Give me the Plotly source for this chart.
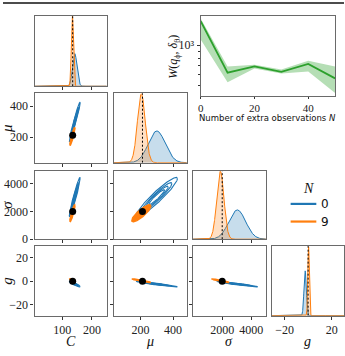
import numpy as np
import plotly.graph_objects as go

# ---------------- data ----------------
param_names = ["C", "μ", "σ", "g"]
truth = [135, 212, 2000, 0]

# posterior summaries, N = 0 (blue) and N = 9 (orange)
mean_n0 = [142, 300, 3040, -2.5]
sd_n0 = [7.5, 52, 580, 1.0]
mean_n9 = [134, 205, 1870, 0.4]
sd_n9 = [3.5, 24, 250, 0.65]
pairs = [(0, 1), (0, 2), (1, 2), (0, 3), (1, 3), (2, 3)]
corr_n0 = [0.97, 0.96, 0.94, -0.90, -0.95, -0.95]
corr_n9 = [0.92, 0.90, 0.85, -0.90, -0.95, -0.95]
contour_levels = [0.05, 0.2, 0.4, 0.65]   # relative density levels
legend_labels = ["0", "9"]

# inset: distance vs number of extra observations
n_extra = [0, 10, 20, 30, 40, 50]
w_median = [1510, 622, 693, 630, 722, 563]
w_low = [1100, 526, 667, 612, 633, 437]
w_high = [1580, 692, 711, 655, 763, 690]

axis_ticks = [[100, 200], [200, 400], [2000, 4000], [-20, 20]]
row_ticks = [None, [200, 400], [0, 2000, 4000], [-20, 0, 20]]

# ---------------- style / layout ----------------
W, H = 345, 356
BLUE = "#1f77b4"
ORANGE = "#ff7f0e"
GREEN = "#2ca02c"
FRAME = "#6a6a6a"
SERIF = "Liberation Serif"

col_px = [(32, 105), (112, 186), (192, 266), (272, 345)]
row_px = [(16, 88), (95, 166), (174, 244), (251, 322)]
x_ranges = [[6.7, 250], [35, 485], [-35, 5020], [-30.8, 30.5]]
y_ranges = [None, [35, 485], [0, 4950], [-29.5, 30]]


def fx(p):
    return p / W


def fy(p):
    return 1 - p / H


def fmt(v):
    return ("−" + str(abs(v))) if v < 0 else str(v)


def ellipse(mx, my, sx, sy, rho, level, n=160):
    r = np.sqrt(-2 * np.log(level))
    t = np.linspace(0, 2 * np.pi, n)
    u = r * np.cos(t)
    v = r * np.sin(t)
    ex = mx + sx * u
    ey = my + sy * (rho * u + np.sqrt(1 - rho * rho) * v)
    return ex, ey


fig = go.Figure()
layout = {}
corr_lookup = [{p: c for p, c in zip(pairs, corr_n0)}, {p: c for p, c in zip(pairs, corr_n9)}]
means = [mean_n0, mean_n9]
sds = [sd_n0, sd_n9]
colors = [BLUE, ORANGE]
fills = ["rgba(31,119,180,0.25)", "rgba(255,127,14,0.25)"]

base_axis = dict(showgrid=False, zeroline=False, showline=True, mirror=True,
                 linecolor=FRAME, linewidth=1.3, ticks="outside", ticklen=3,
                 tickwidth=1, tickcolor="#333",
                 tickfont=dict(family=SERIF, size=12, color="#222"))

k = 0
for r in range(4):
    for c in range(r + 1):
        k += 1
        xn, yn = f"x{k}", f"y{k}"
        xa = dict(base_axis)
        xa.update(domain=[fx(col_px[c][0]), fx(col_px[c][1])], range=x_ranges[c],
                  anchor=yn, tickvals=axis_ticks[c],
                  ticktext=[fmt(v) for v in axis_ticks[c]],
                  showticklabels=(r == 3))
        ya = dict(base_axis)
        ya.update(domain=[fy(row_px[r][1]), fy(row_px[r][0])], anchor=xn)
        if r == c:
            lo, hi = x_ranges[c]
            xs = np.linspace(lo, hi, 700)
            peak = 0
            for s in range(2):
                m, sd = means[s][c], sds[s][c]
                dens = np.exp(-0.5 * ((xs - m) / sd) ** 2) / (sd * np.sqrt(2 * np.pi))
                peak = max(peak, dens.max())
                fig.add_trace(go.Scatter(x=xs, y=dens, mode="lines", fill="tozeroy",
                                         fillcolor=fills[s], line=dict(color=colors[s], width=1),
                                         xaxis=xn, yaxis=yn, showlegend=False, hoverinfo="skip"))
            ya.update(range=[0, peak * 1.01], ticks="", showticklabels=False)
            fig.add_trace(go.Scatter(x=[truth[c], truth[c]], y=[0, peak * 1.01], mode="lines",
                                     line=dict(color="black", width=1, dash="2px,2px"),
                                     xaxis=xn, yaxis=yn, showlegend=False, hoverinfo="skip"))
        else:
            ya.update(range=y_ranges[r], tickvals=row_ticks[r],
                      ticktext=[fmt(v) for v in row_ticks[r]], showticklabels=(c == 0))
            for s in range(2):
                mx, my = means[s][c], means[s][r]
                sx, sy = sds[s][c], sds[s][r]
                rho = corr_lookup[s][(c, r)]
                if s == 0:
                    for lev in contour_levels:
                        ex, ey = ellipse(mx, my, sx, sy, rho, lev)
                        fig.add_trace(go.Scatter(x=ex, y=ey, mode="lines",
                                                 line=dict(color=BLUE, width=1.1),
                                                 xaxis=xn, yaxis=yn, showlegend=False,
                                                 hoverinfo="skip"))
                else:
                    ex, ey = ellipse(mx, my, sx, sy, rho, contour_levels[0])
                    fig.add_trace(go.Scatter(x=ex, y=ey, mode="lines", fill="toself",
                                             fillcolor=ORANGE, line=dict(color=ORANGE, width=1.5),
                                             xaxis=xn, yaxis=yn, showlegend=False,
                                             hoverinfo="skip"))
            fig.add_trace(go.Scatter(x=[truth[c]], y=[truth[r]], mode="markers",
                                     marker=dict(color="black", size=7),
                                     xaxis=xn, yaxis=yn, showlegend=False, hoverinfo="skip"))
        layout["xaxis" if k == 1 else f"xaxis{k}"] = xa
        layout["yaxis" if k == 1 else f"yaxis{k}"] = ya

# ---------------- inset ----------------
k += 1
xn, yn = f"x{k}", f"y{k}"
fig.add_trace(go.Scatter(x=n_extra, y=w_high, mode="lines", line=dict(width=0, color=GREEN),
                         xaxis=xn, yaxis=yn, showlegend=False, hoverinfo="skip"))
fig.add_trace(go.Scatter(x=n_extra, y=w_low, mode="lines", line=dict(width=0, color=GREEN),
                         fill="tonexty", fillcolor="rgba(44,160,44,0.35)",
                         xaxis=xn, yaxis=yn, showlegend=False, hoverinfo="skip"))
fig.add_trace(go.Scatter(x=n_extra, y=w_median, mode="lines", line=dict(width=1.8, color=GREEN),
                         xaxis=xn, yaxis=yn, showlegend=False, hoverinfo="skip"))
xa = dict(base_axis)
xa.update(domain=[fx(200), fx(336)], range=[0, 50], anchor=yn, tickvals=[0, 20, 40],
          ticklen=2, tickfont=dict(family=SERIF, size=11, color="#222"))
ya = dict(base_axis)
ya.update(domain=[fy(98), fy(16)], type="log", range=[2.618, 3.22], anchor=xn,
          tickvals=[1000], ticktext=["10³"],
          minor=dict(ticks="outside", ticklen=2, tickcolor="#333",
                     tickvals=[500, 600, 700, 800, 900]))
layout[f"xaxis{k}"] = xa
layout[f"yaxis{k}"] = ya

# ---------------- annotations ----------------
ann = []


def add_text(xp, yp, text, size, family=SERIF, angle=0, xanchor="center"):
    ann.append(dict(x=fx(xp), y=fy(yp), xref="paper", yref="paper", text=text,
                    showarrow=False, textangle=angle, xanchor=xanchor, yanchor="middle",
                    font=dict(family=family, size=size, color="#111")))


bottom_centers = [68.5, 149, 229, 308.5]
for i, name in enumerate(param_names):
    add_text(bottom_centers[i], 348.5, f"<i>{name}</i>", 14)
for r, name in zip([1, 2, 3], param_names[1:]):
    cy = (row_px[r][0] + row_px[r][1]) / 2
    add_text(4, cy, f"<i>{name}</i>", 15, angle=-90)
add_text(173, 58, "<i>W</i>(<i>q</i><sub>ϕ</sub>, <i>δ</i><sub>θ</sub>)", 12, angle=-90)
add_text(268, 120, "Number of extra observations <i>N</i>", 8.5, family="DejaVu Sans")
# legend
add_text(309, 192, "<i>N</i>", 14)
shapes = []
for lab, col, yy in zip(legend_labels, colors, [208, 226]):
    shapes.append(dict(type="line", xref="paper", yref="paper", x0=fx(291), x1=fx(317),
                       y0=fy(yy), y1=fy(yy), line=dict(color=col, width=2.2)))
    add_text(320, yy, lab, 12, family="DejaVu Sans", xanchor="left")
shapes.append(dict(type="line", xref="paper", yref="paper", x0=0, x1=1, y0=fy(3), y1=fy(3),
                   line=dict(color="#111", width=1.6)))

fig.update_layout(width=W, height=H, margin=dict(l=0, r=0, t=0, b=0),
                  paper_bgcolor="white", plot_bgcolor="white", showlegend=False,
                  annotations=ann, shapes=shapes, **layout)
fig.write_html("out.html")
